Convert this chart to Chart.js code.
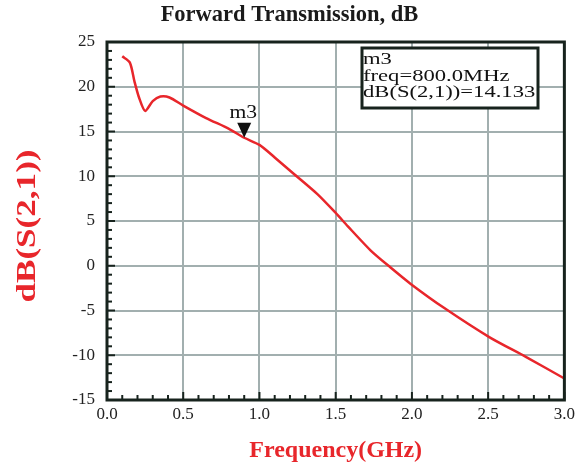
<!DOCTYPE html>
<html>
<head>
<meta charset="utf-8">
<script src="https://cdn.jsdelivr.net/npm/chart.js@4/dist/chart.umd.min.js"></script>
<style>
  html, body { margin: 0; padding: 0; background: #fff; }
  #wrap { width: 579px; height: 469px; }
</style>
</head>
<body>
<div id="wrap"><canvas id="s21Chart" width="579" height="469"></canvas></div>
<script>
// Frequency sweep (GHz) and the matching dB(S(2,1)) values
const freqGHz = [0.10, 0.15, 0.18, 0.21, 0.25, 0.30, 0.35, 0.41, 0.50, 0.65, 0.80, 0.90,
                 1.00, 1.10, 1.23, 1.38, 1.50, 1.58, 1.73, 1.86, 1.99, 2.21, 2.51, 2.75, 3.00];
const s21dB   = [23.4, 22.7, 20.6, 18.8, 17.3, 18.4, 18.9, 18.8, 17.9, 16.5, 15.3, 14.3,
                 13.5, 12.1, 10.2, 8.0, 5.9, 4.4, 1.7, -0.2, -2.0, -4.7, -8.0, -10.2, -12.6];

// Marker m3
const markerFreq = 0.90;
const markerDb = 14.3;
const markerLines = ['m3', 'freq=800.0MHz', 'dB(S(2,1))=14.133'];

const xTicks = [0, 0.5, 1.0, 1.5, 2.0, 2.5, 3.0];
const yTicks = [-15, -10, -5, 0, 5, 10, 15, 20, 25];

const serif = '"Liberation Serif", "Times New Roman", serif';
const frameColor = '#17231d';
const gridColor = '#a2afaf';
const traceColor = '#e8262b';

// Frame, minor ticks, y title, marker and readout box
const decorPlugin = {
    id: 'decor',
    afterDatasetsDraw(chart) {
        const { ctx, chartArea: a, scales } = chart;
        const xs = scales.x, ys = scales.y;
        ctx.save();

        // inward ticks on left and bottom axes
        ctx.strokeStyle = frameColor;
        ctx.lineWidth = 2;
        for (let v = -15; v <= 25; v++) {
            const py = ys.getPixelForValue(v);
            const len = v % 5 === 0 ? 8 : 5;
            ctx.beginPath();
            ctx.moveTo(a.left, py);
            ctx.lineTo(a.left + len, py);
            ctx.stroke();
        }
        for (let i = 0; i <= 30; i++) {
            const px = xs.getPixelForValue(i / 10);
            const len = i % 5 === 0 ? 8 : 5;
            ctx.beginPath();
            ctx.moveTo(px, a.bottom);
            ctx.lineTo(px, a.bottom - len);
            ctx.stroke();
        }

        // plot frame
        ctx.lineWidth = 3;
        ctx.strokeRect(a.left, a.top, a.right - a.left, a.bottom - a.top);

        // y axis title (the original is stretched along its length)
        ctx.save();
        ctx.translate(28, (a.top + a.bottom) / 2 + 5);
        ctx.rotate(-Math.PI / 2);
        ctx.scale(1.3, 1);
        ctx.fillStyle = traceColor;
        ctx.font = 'bold 27px ' + serif;
        ctx.textAlign = 'center';
        ctx.textBaseline = 'middle';
        ctx.fillText('dB(S(2,1))', 0, 0);
        ctx.restore();

        // marker triangle, tip on the trace
        const mx = xs.getPixelForValue(markerFreq);
        const my = ys.getPixelForValue(markerDb);
        ctx.fillStyle = '#111';
        ctx.beginPath();
        ctx.moveTo(mx, my);
        ctx.lineTo(mx - 7, my - 15);
        ctx.lineTo(mx + 7, my - 15);
        ctx.closePath();
        ctx.fill();
        ctx.save();
        ctx.translate(mx - 1, my - 15);
        ctx.scale(1.2, 1);
        ctx.font = '18px ' + serif;
        ctx.textAlign = 'center';
        ctx.textBaseline = 'bottom';
        ctx.fillText('m3', 0, 0);
        ctx.restore();

        // readout box
        const bx = a.left + 255, by = a.top + 6, bw = 176, bh = 60;
        ctx.fillStyle = '#ffffff';
        ctx.fillRect(bx, by, bw, bh);
        ctx.lineWidth = 3;
        ctx.strokeStyle = frameColor;
        ctx.strokeRect(bx, by, bw, bh);
        ctx.fillStyle = '#111';
        ctx.font = '17px ' + serif;
        ctx.textAlign = 'left';
        ctx.textBaseline = 'alphabetic';
        markerLines.forEach((t, i) => {
            ctx.save();
            ctx.translate(bx + 1, by + 16 + i * 16.5);
            ctx.scale(1.33, 1);
            ctx.fillText(t, 0, 0);
            ctx.restore();
        });

        ctx.restore();
    }
};

const config = {
    type: 'scatter',
    data: {
        datasets: [{
            label: 'dB(S(2,1))',
            data: freqGHz.map((f, i) => ({ x: f, y: s21dB[i] })),
            showLine: true,
            borderColor: traceColor,
            borderWidth: 2.5,
            pointRadius: 0,
            tension: 0.25
        }]
    },
    options: {
        responsive: false,
        animation: false,
        layout: { padding: 0 },
        plugins: {
            legend: { display: false },
            tooltip: { enabled: false },
            title: {
                display: true,
                text: 'Forward Transmission, dB',
                color: '#1a1a1a',
                font: { family: serif, size: 22.5, weight: 'bold' },
                padding: { top: 2, bottom: 13 }
            }
        },
        scales: {
            x: {
                type: 'linear',
                min: 0,
                max: 3,
                afterBuildTicks: s => { s.ticks = xTicks.map(v => ({ value: v })); },
                afterFit: s => { s.height = 69; },
                ticks: {
                    color: '#222',
                    font: { family: serif, size: 17 },
                    padding: 4,
                    callback: v => v.toFixed(1)
                },
                grid: { color: gridColor, lineWidth: 2, drawTicks: false },
                border: { display: false },
                title: {
                    display: true,
                    text: 'Frequency(GHz)',
                    color: traceColor,
                    font: { family: serif, size: 24, weight: 'bold' },
                    padding: { top: 15 }
                }
            },
            y: {
                min: -15,
                max: 25,
                afterBuildTicks: s => { s.ticks = yTicks.map(v => ({ value: v })); },
                afterFit: s => { s.width = 107; },
                ticks: {
                    color: '#222',
                    font: { family: serif, size: 17 },
                    padding: 12
                },
                grid: { color: gridColor, lineWidth: 2, drawTicks: false },
                border: { display: false }
            }
        }
    },
    plugins: [decorPlugin]
};

new Chart(document.getElementById('s21Chart').getContext('2d'), config);
</script>
</body>
</html>
